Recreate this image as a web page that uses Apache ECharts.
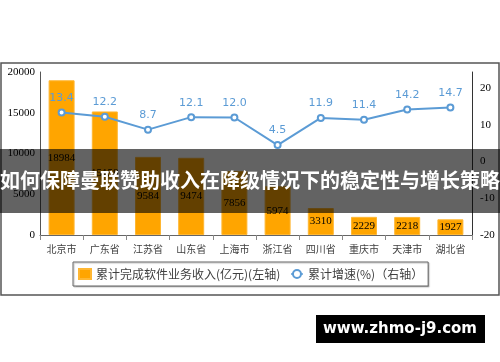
<!DOCTYPE html>
<html>
<head>
<meta charset="utf-8">
<script src="https://cdn.jsdelivr.net/npm/echarts@6/dist/echarts.min.js"></script>
<style>html,body{margin:0;padding:0;background:#fff}#c{width:500px;height:362px}</style>
</head>
<body>
<div id="c"></div>
<script>
var categories = ['北京市','广东省','江苏省','山东省','上海市','浙江省','四川省','重庆市','天津市','湖北省'];
var revenue = [18984, 15158, 9584, 9474, 7856, 5974, 3310, 2229, 2218, 1927];
var growth = [13.4, 12.2, 8.7, 12.1, 12.0, 4.5, 11.9, 11.4, 14.2, 14.7];
var barName = '累计完成软件业务收入(亿元)(左轴)';
var lineName = '累计增速(%)（右轴）';
var bannerText = '如何保障曼联赞助收入在降级情况下的稳定性与增长策略';
var watermark = 'www.zhmo-j9.com';

var chart = echarts.init(document.getElementById('c'), null, {renderer: 'canvas'});
var serif = 'Liberation Serif';
var cjk = 'Noto Sans CJK SC';
chart.setOption({
  backgroundColor: '#fff',
  animation: false,
  grid: {left: 40, right: 28, top: 72, bottom: 127},
  legend: {
    left: 73, top: 262,
    padding: [6, 5, 6, 5],
    itemGap: 10,
    itemWidth: 12, itemHeight: 10,
    borderColor: '#666', borderWidth: 1,
    shadowColor: 'rgba(0,0,0,0.25)', shadowOffsetX: 1, shadowOffsetY: 1, shadowBlur: 1,
    backgroundColor: '#fff',
    textStyle: {fontFamily: cjk, fontSize: 12, color: '#404040'},
    data: [
      {name: barName, icon: 'rect'},
      {name: lineName, itemStyle: {borderWidth: 1}, lineStyle: {width: 1.5, type: 'dashed'}}
    ]
  },
  xAxis: {
    type: 'category',
    data: categories,
    axisLine: {lineStyle: {color: '#666'}},
    axisTick: {show: true, length: 5, lineStyle: {color: '#888'}},
    axisLabel: {fontFamily: cjk, fontSize: 10, color: '#404040', margin: 9}
  },
  yAxis: [{
    type: 'value', min: 0, max: 20000, interval: 5000,
    axisLine: {show: true, lineStyle: {color: '#555'}},
    axisTick: {show: false},
    splitLine: {show: false},
    axisLabel: {fontFamily: serif, fontSize: 11, color: '#000', margin: 5, formatter: function(v){return String(v);}}
  }, {
    type: 'value', min: -20, max: 24.4, interval: 10,
    axisLine: {show: true, lineStyle: {color: '#333'}},
    axisTick: {show: false},
    splitLine: {show: false},
    axisLabel: {fontFamily: serif, fontSize: 11, color: '#000', margin: 8, showMaxLabel: false}
  }],
  series: [{
    name: barName,
    type: 'bar',
    data: revenue,
    barWidth: 26,
    itemStyle: {color: '#FFA500', borderColor: '#FFB733', borderWidth: 1},
    label: {show: true, position: 'inside', fontFamily: serif, fontSize: 11, color: '#000'}
  }, {
    name: lineName,
    type: 'line',
    yAxisIndex: 1,
    data: growth,
    symbol: 'emptyCircle',
    symbolSize: 6,
    lineStyle: {color: '#5B9BD5', width: 2},
    itemStyle: {color: '#5B9BD5', borderWidth: 1.5},
    label: {show: true, position: 'top', distance: 5, fontFamily: 'DejaVu Sans', fontSize: 11, color: '#5B9BD5', formatter: function(p){return p.value.toFixed(1);}}
  }],
  graphic: [
    {type: 'rect', z: 0, silent: true, shape: {x: 1, y: 63, width: 498, height: 232}, style: {fill: null, stroke: '#555', lineWidth: 1.5}},
    {type: 'rect', z: 100, silent: true, shape: {x: 0, y: 149, width: 500, height: 64}, style: {fill: 'rgba(0,0,0,0.61)'}},
    {type: 'text', z: 101, silent: true, left: 'center', top: 170, style: {text: bannerText, fill: '#fff', font: 'bold 20px "Noto Sans CJK SC"'}},
    {type: 'rect', z: 100, silent: true, shape: {x: 316, y: 315, width: 169, height: 28}, style: {fill: '#000'}},
    {type: 'text', z: 101, silent: true, x: 400, y: 329, style: {text: watermark, fill: '#fff', font: 'bold 15px "DejaVu Sans"', align: 'center', verticalAlign: 'middle'}}
  ]
});
</script>
</body>
</html>
